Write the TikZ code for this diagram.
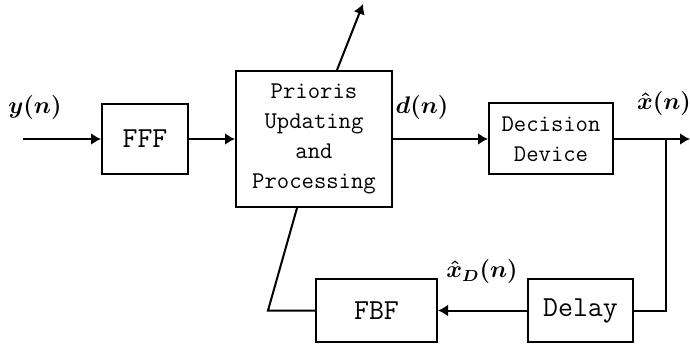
\documentclass[tikz,border=0pt]{standalone}
\usepackage{amsmath}
\usepackage{amssymb}
\usepackage{xcolor}
\usepackage{tikz}
\usetikzlibrary{arrows.meta}

\begin{document}
\begin{tikzpicture}[x=0.5pt, y=-0.5pt, line width=1pt,
    block/.style={draw, rectangle, inner sep=0pt, align=center, font=\fontsize{14.5}{17}\selectfont\ttfamily},
    textblock/.style={block, font=\fontsize{12}{15}\selectfont\ttfamily},
    sig/.style={inner sep=1pt, font=\fontsize{12}{14}\selectfont\boldmath},
    >={Latex[length=5pt, width=6pt]}]
        \useasboundingbox (0,0) rectangle (690,347);

        \node[block, minimum width=43pt, minimum height=35pt] (fff) at (145,139) {FFF};
        \node[textblock, minimum width=78pt, minimum height=68pt] (prioris) at (314,139) {Prioris\\Updating\\and\\Processing};
        \node[textblock, minimum width=62pt, minimum height=35.5pt] (decision) at (551,139) {Decision\\Device};
        \node[block, minimum width=52.5pt, minimum height=31.5pt] (delay) at (580.5,310.5) {Delay};
        \node[block, minimum width=60.5pt, minimum height=31.5pt] (fbf) at (376.5,310.5) {FBF};

        \coordinate (in) at (23,139);
        \coordinate (out) at (690,139);
        \coordinate (tap) at (666,139);
        \coordinate (adapt) at (363,4);
        \coordinate (corner) at (268,310.5);

        \node[sig] (yn) at (35,108) {$y(n)$};
        \node[sig] (dn) at (422,108) {$d(n)$};
        \node[sig] (xn) at (664,104) {$\hat{x}(n)$};
        \node[sig] (xdn) at (482,272) {$\hat{x}_D(n)$};

        \draw[->] (in) -- (fff);
        \draw[->] (fff) -- (prioris);
        \draw[->] (prioris) -- (decision);
        \draw[->] (decision) -- (out);
        \draw[->] ([xshift=11.5pt]prioris.north) -- (adapt);
        \draw (tap) |- (delay.east);
        \draw[->] (delay) -- (fbf);
        \draw (fbf.west) -- (corner) -- ([xshift=-8.5pt]prioris.south);
    \end{tikzpicture}
\end{document}
